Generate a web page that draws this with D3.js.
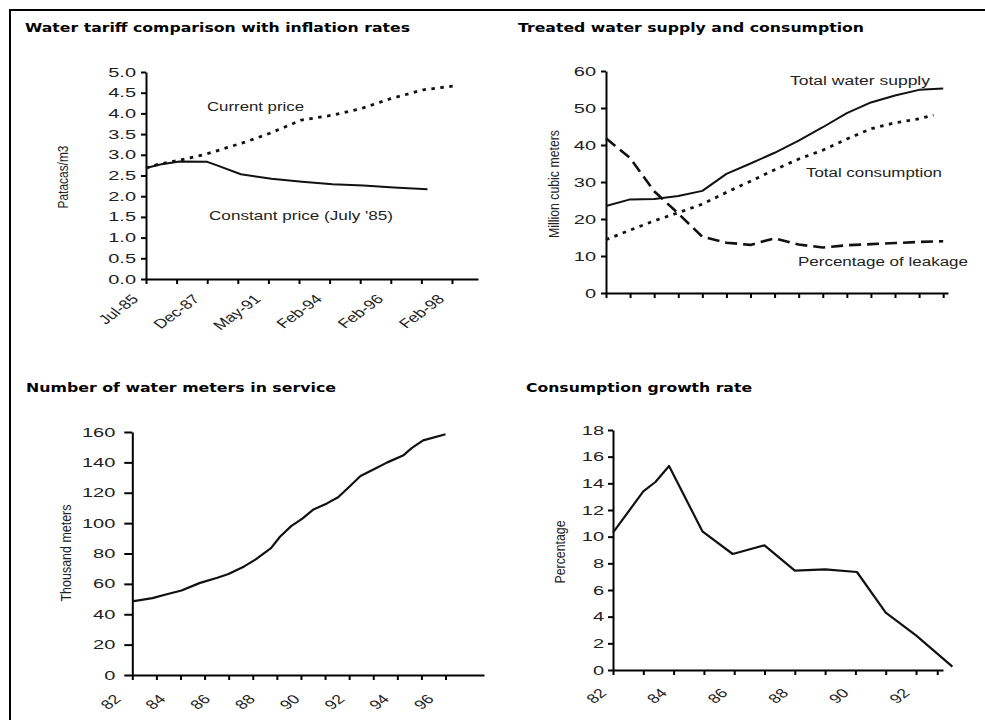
<!DOCTYPE html>
<html>
<head>
<meta charset="utf-8">
<script src="https://cdn.jsdelivr.net/npm/d3@7"></script>
<style>
  body { margin: 0; background: #fff; }
  svg { display: block; font-family: "Liberation Sans", Arial, sans-serif; }
  .axis path, .axis line { stroke: #000; stroke-width: 2; }
  .axis text { fill: #222; }
  .title { font-family: "DejaVu Sans", Verdana, sans-serif; font-weight: bold; font-size: 13px; fill: #000; }
  .lbl { font-size: 12px; fill: #222; }
  .ylab { font-size: 14px; fill: #222; }
</style>
</head>
<body>
<div id="chart"></div>
<script>
// ---- data ----

// water tariff (x = position among the date ticks)
const tariffTicks = ["Jul-85", "", "Dec-87", "", "May-91", "", "Feb-94", "", "Feb-96", "", "Feb-98"];
const currentIdx = [0, 0.35, 1.1, 1.98, 3.29, 4.05, 5.08, 6.12, 7.05, 7.97, 9.06, 10.04];
const currentPrice = [2.68, 2.76, 2.87, 3.02, 3.32, 3.52, 3.84, 3.96, 4.12, 4.35, 4.57, 4.66];
const constantIdx = [0, 0.5, 1.1, 2.0, 2.3, 3.1, 4.1, 5.1, 6.1, 7.1, 8.1, 9.2];
const constantPrice = [2.68, 2.77, 2.84, 2.83, 2.75, 2.53, 2.42, 2.35, 2.29, 2.26, 2.21, 2.17];
const tariffYTicks = [0, 0.5, 1, 1.5, 2, 2.5, 3, 3.5, 4, 4.5, 5];

// treated water supply (unlabelled periods)
const supplyPeriods = [0, 1, 2, 3, 4, 5, 6, 7, 8, 9, 10, 11, 12, 13, 14];
const totalSupply = [23.5, 25.3, 25.4, 26.2, 27.6, 32.2, 35, 37.9, 41.2, 44.8, 48.6, 51.5, 53.4, 54.9, 55.3];
const consumptionPeriods = [0, 1, 2, 3, 4, 5, 6, 7, 8, 9, 10, 11, 12, 13, 13.6];
const totalConsumption = [14.4, 17, 19.5, 21.7, 24, 27.2, 30.2, 33.3, 36.2, 38.6, 41.6, 44.4, 46, 47.1, 48.1];
const leakage = [41.8, 36.5, 27.5, 21.5, 15.2, 13.6, 13, 14.8, 13.1, 12.3, 12.9, 13.2, 13.5, 13.8, 14];
const supplyYTicks = [0, 10, 20, 30, 40, 50, 60];

// water meters in service
const meterYears = [82, 82.9, 83.5, 84.2, 85, 85.8, 86.3, 87, 87.5, 88.2, 88.6, 89.1, 89.6, 90.1, 90.7, 91.2, 91.7, 92.2, 92.8, 93.4, 94.1, 94.5, 95, 96];
const meters = [48.5, 50.6, 53, 55.6, 60.5, 64, 66.5, 71.5, 76, 83.5, 91, 98, 103, 109, 113, 117, 124, 131, 135.5, 140, 144.5, 149.5, 154.5, 158.5];
const meterLabels = [82, 84, 86, 88, 90, 92, 94, 96];
const meterYTicks = [0, 20, 40, 60, 80, 100, 120, 140, 160];

// consumption growth rate
const growthYears = [82, 83, 83.4, 83.85, 84.95, 85.95, 87, 88, 89, 90.05, 91, 92, 93.2];
const growthRate = [10.3, 13.4, 14.1, 15.3, 10.4, 8.7, 9.35, 7.45, 7.55, 7.35, 4.3, 2.6, 0.25];
const growthTickYears = [82, 83, 84, 85, 86, 87, 88, 89, 90, 91, 92, 92.7];
const growthLabels = [82, 84, 86, 88, 90, 92];
const growthYTicks = [0, 2, 4, 6, 8, 10, 12, 14, 16, 18];

// ---- drawing ----
const svg = d3.select("#chart").append("svg")
    .attr("width", 985)
    .attr("height", 720);

// frame (only top and left edges are inside the picture)
svg.append("path")
    .attr("d", "M10,720V10H985")
    .attr("fill", "none")
    .attr("stroke", "#000")
    .attr("stroke-width", 2);

function title(x, y, text, w) {
    svg.append("text").attr("class", "title")
        .attr("x", x).attr("y", y)
        .attr("textLength", w).attr("lengthAdjust", "spacingAndGlyphs")
        .text(text);
}

function label(x, y, text, w) {
    svg.append("text").attr("class", "lbl")
        .attr("x", x).attr("y", y)
        .attr("textLength", w).attr("lengthAdjust", "spacingAndGlyphs")
        .text(text);
}

function yTitle(x, y, text, w) {
    svg.append("text").attr("class", "ylab")
        .attr("transform", `translate(${x},${y}) rotate(-90)`)
        .attr("text-anchor", "middle")
        .attr("textLength", w).attr("lengthAdjust", "spacingAndGlyphs")
        .text(text);
}

function yAxis(y, x0, ticks, fmt, tickLen, gap) {
    const g = svg.append("g").attr("class", "axis")
        .attr("transform", `translate(${x0},0)`)
        .call(d3.axisLeft(y).tickValues(ticks).tickFormat(fmt).tickSize(tickLen).tickSizeOuter(0));
    g.selectAll("text")
        .attr("font-size", 12.5)
        .attr("x", -gap / 1.6)
        .attr("transform", "scale(1.6,1)");
    return g;
}

function xTicks(x, y0, ticks) {
    svg.append("g").attr("class", "axis")
        .attr("transform", `translate(0,${y0})`)
        .call(d3.axisBottom(x).tickValues(ticks).tickFormat("").tickSize(5).tickSizeOuter(0));
}

function xLabels(x, y0, ticks, fmt, dx, dy) {
    const g = svg.append("g").attr("class", "axis")
        .attr("transform", `translate(0,${y0})`)
        .call(d3.axisBottom(x).tickValues(ticks).tickFormat(fmt).tickSize(0));
    g.select(".domain").remove();
    g.selectAll("text")
        .attr("font-size", 13)
        .attr("x", 0).attr("y", 0).attr("dy", null)
        .attr("text-anchor", "end")
        .attr("transform", `translate(${dx},${dy}) scale(1.35,1) rotate(-45)`);
}

function series(x, y, xs, ys, dash, width) {
    const line = d3.line().x(d => x(d[0])).y(d => y(d[1]));
    svg.append("path")
        .datum(d3.zip(xs, ys))
        .attr("d", line)
        .attr("fill", "none")
        .attr("stroke", "#111")
        .attr("stroke-width", width)
        .attr("stroke-linejoin", "round")
        .attr("stroke-dasharray", dash);
}

// --- panel 1: water tariff ---
title(25, 32, "Water tariff comparison with inflation rates", 385);
const x1 = d3.scaleLinear().domain([0, 10.85]).range([146, 478]);
const y1 = d3.scaleLinear().domain([0, 5]).range([279, 72]);
yAxis(y1, 146, tariffYTicks, d3.format(".1f"), 5, 10);
xTicks(x1, 279, d3.range(tariffTicks.length));
xLabels(x1, 279, d3.range(0, tariffTicks.length, 2), i => tariffTicks[i], -7, 21);
series(x1, y1, currentIdx, currentPrice, "3.5,5.5", 2.8);
series(x1, y1, constantIdx, constantPrice, null, 2);
label(207, 111, "Current price", 97);
label(209, 220, "Constant price (July '85)", 184);
yTitle(68, 177, "Patacas/m3", 63);

// --- panel 2: treated water supply ---
title(518, 31.5, "Treated water supply and consumption", 346);
const x2 = d3.scaleLinear().domain([0, 14.2]).range([606, 948]);
const y2 = d3.scaleLinear().domain([0, 60]).range([293, 71]);
yAxis(y2, 606, supplyYTicks, d3.format("d"), 5, 10);
xTicks(x2, 293, supplyPeriods);
series(x2, y2, supplyPeriods, totalSupply, null, 2);
series(x2, y2, consumptionPeriods, totalConsumption, "3.5,5.5", 2.8);
series(x2, y2, supplyPeriods, leakage, "12,6", 2.6);
label(790, 85, "Total water supply", 140);
label(806, 177, "Total consumption", 136);
label(798, 266, "Percentage of leakage", 170);
yTitle(559, 184, "Million cubic meters", 108);

// --- panel 3: water meters ---
title(26, 392, "Number of water meters in service", 310);
const x3 = d3.scaleLinear().domain([82, 97.72]).range([132.3, 484]);
const y3 = d3.scaleLinear().domain([0, 160]).range([675, 432]);
yAxis(y3, 132.3, meterYTicks, d3.format("d"), 8, 17);
xTicks(x3, 675, d3.range(14).map(k => 82 + k * 14 / 13));
xLabels(x3, 675, meterLabels, d3.format("d"), -11, 25);
series(x3, y3, meterYears, meters, null, 2.2);
yTitle(71, 553, "Thousand meters", 97);

// --- panel 4: consumption growth ---
title(526, 392, "Consumption growth rate", 226);
const x4 = d3.scaleLinear().domain([82, 92.89]).range([613, 943]);
const y4 = d3.scaleLinear().domain([0, 18]).range([670, 430]);
yAxis(y4, 613, growthYTicks, d3.format("d"), 5, 9);
xTicks(x4, 670, growthTickYears);
xLabels(x4, 670, growthLabels, d3.format("d"), -6, 24);
series(x4, y4, growthYears, growthRate, null, 2.2);
yTitle(565, 552, "Percentage", 63);
</script>
</body>
</html>
